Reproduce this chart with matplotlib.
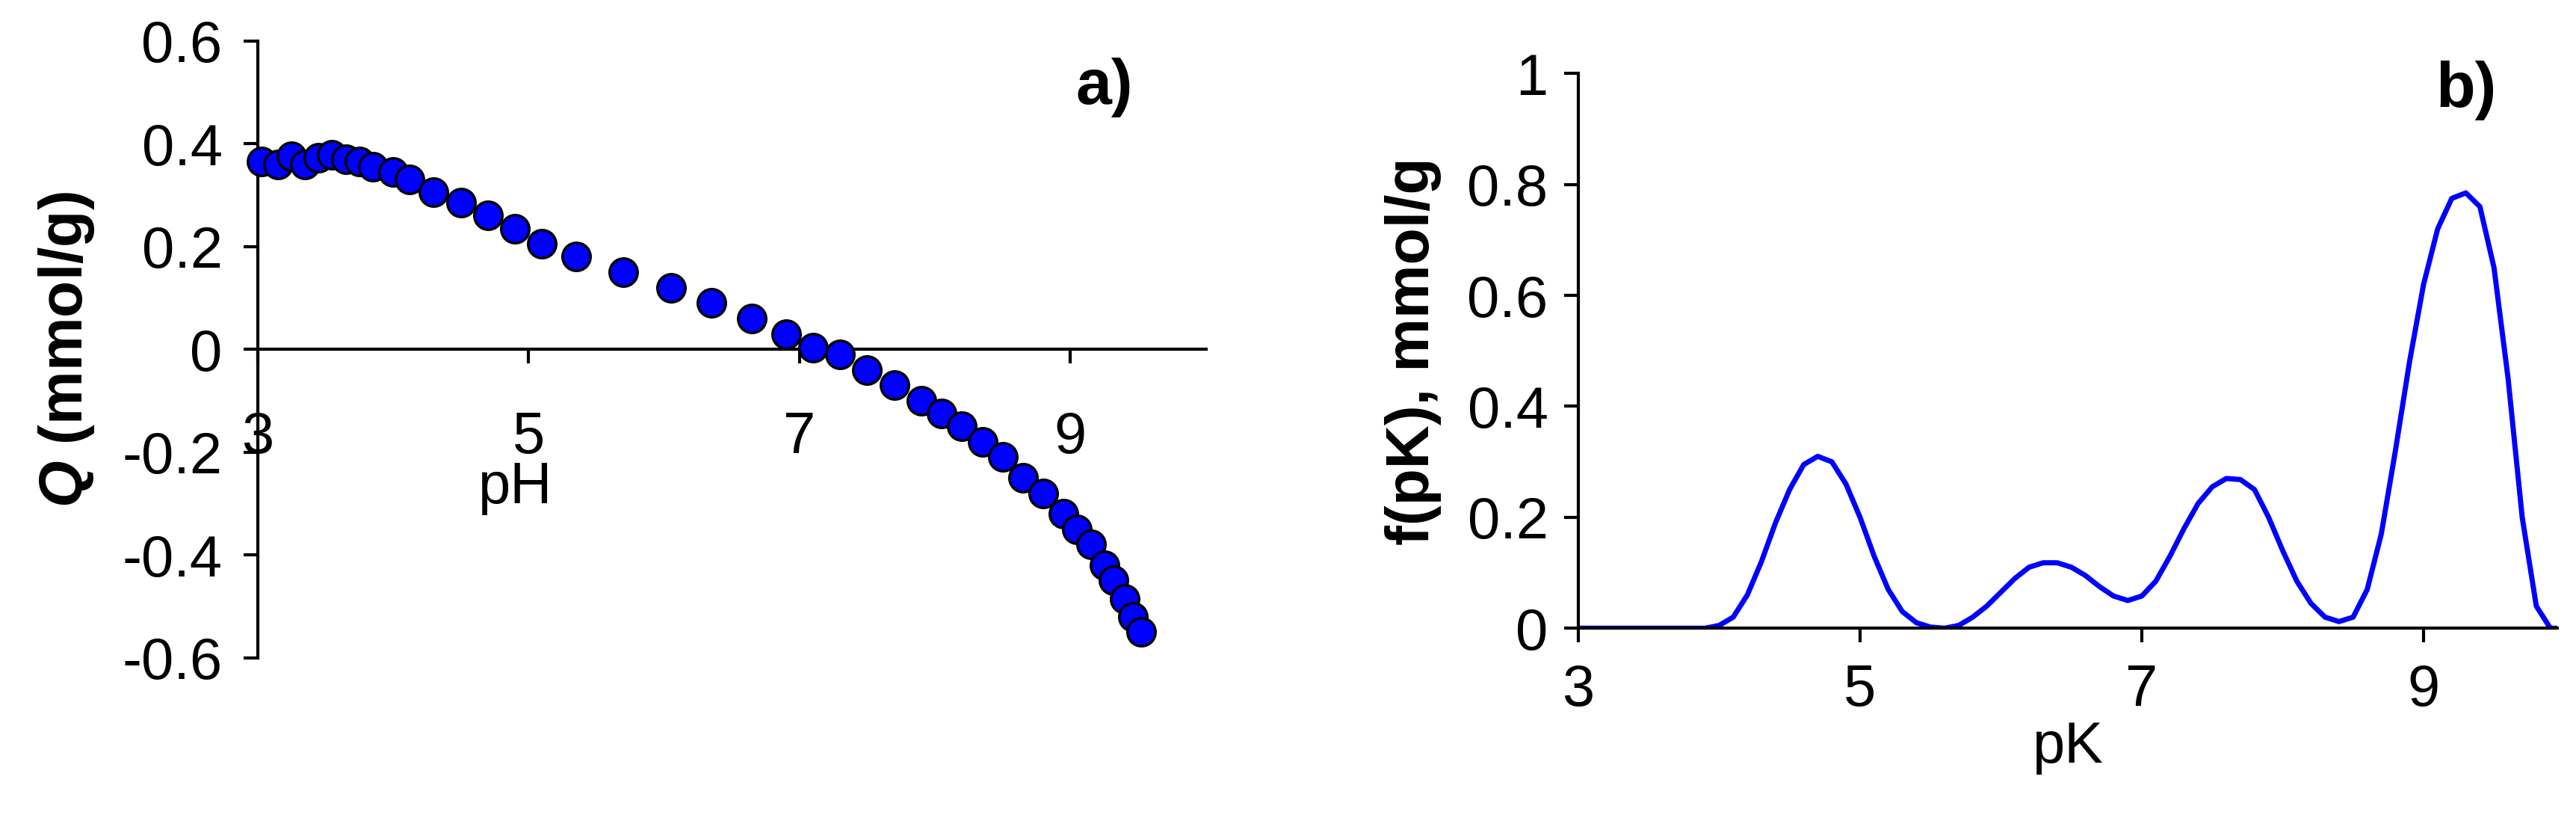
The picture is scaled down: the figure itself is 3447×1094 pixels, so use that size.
import matplotlib
matplotlib.use("Agg")
import matplotlib.pyplot as plt

plt.rcParams['font.family'] = ['Liberation Sans', 'DejaVu Sans']
plt.rcParams['mathtext.fontset'] = 'custom'
plt.rcParams['mathtext.rm'] = 'Liberation Sans'
plt.rcParams['mathtext.bf'] = 'Liberation Sans:bold'
plt.rcParams['mathtext.it'] = 'Liberation Sans:italic'
plt.rcParams['mathtext.bfit'] = 'Liberation Sans:italic:bold'

pH = [3.03, 3.15, 3.25, 3.35, 3.45, 3.55, 3.65, 3.75, 3.85, 4.0, 4.12, 4.3, 4.5, 4.7, 4.9,
      5.1, 5.35, 5.7, 6.05, 6.35, 6.65, 6.9, 7.1, 7.3, 7.5, 7.7, 7.9, 8.05, 8.2, 8.35,
      8.5, 8.65, 8.8, 8.95, 9.05, 9.15, 9.25, 9.32, 9.4, 9.46, 9.52]
Q = [0.365, 0.36, 0.375, 0.36, 0.372, 0.378, 0.37, 0.365, 0.355, 0.345, 0.33, 0.305, 0.285,
     0.26, 0.235, 0.205, 0.18, 0.15, 0.12, 0.09, 0.06, 0.03, 0.003, -0.01, -0.04, -0.07,
     -0.1, -0.125, -0.15, -0.18, -0.21, -0.25, -0.28, -0.32, -0.35, -0.38, -0.42, -0.45,
     -0.485, -0.52, -0.55]

pK = [3.0, 3.5, 3.9, 4.0, 4.1, 4.2, 4.3, 4.4, 4.5, 4.6, 4.7, 4.8, 4.9, 5.0, 5.1, 5.2, 5.3, 5.4,
      5.5, 5.6, 5.7, 5.8, 5.9, 6.0, 6.1, 6.2, 6.3, 6.4, 6.5, 6.6, 6.7, 6.8, 6.9, 7.0, 7.1, 7.2,
      7.3, 7.4, 7.5, 7.6, 7.7, 7.8, 7.9, 8.0, 8.1, 8.2, 8.3, 8.4, 8.5, 8.6, 8.7, 8.8, 8.9, 9.0,
      9.1, 9.2, 9.3, 9.4, 9.5, 9.6, 9.7, 9.8, 9.9, 9.95]
fpK = [0, 0, 0, 0.005, 0.02, 0.06, 0.12, 0.19, 0.25, 0.295, 0.31, 0.3, 0.26, 0.2, 0.13, 0.07,
       0.03, 0.01, 0.002, 0.0, 0.005, 0.02, 0.04, 0.065, 0.09, 0.11, 0.118, 0.118, 0.11, 0.095,
       0.075, 0.058, 0.05, 0.058, 0.085, 0.13, 0.18, 0.225, 0.255, 0.27, 0.268, 0.25, 0.2, 0.14,
       0.085, 0.045, 0.02, 0.012, 0.02, 0.07, 0.17, 0.32, 0.48, 0.62, 0.72, 0.775, 0.785, 0.76,
       0.65, 0.45, 0.2, 0.04, 0.0, 0.0]

fig = plt.figure(figsize=(34.48, 10.94), dpi=100)
FS = 56

# Panel a
ax = fig.add_axes([0.1, 0.196, 0.368, 0.754])
ax.scatter(pH, Q, s=27**2, c='#0000ff', edgecolors='black', linewidths=2.5, zorder=3, clip_on=False)
ax.set_xlim(3, 10)
ax.set_ylim(-0.6, 0.6)
ax.spines['top'].set_visible(False)
ax.spines['right'].set_visible(False)
ax.spines['left'].set_position(('data', 3))
ax.spines['bottom'].set_position(('data', 0))
for s in ['left', 'bottom']:
    ax.spines[s].set_linewidth(3)
ax.set_xticks([3, 5, 7, 9])
ax.set_yticks([-0.6, -0.4, -0.2, 0, 0.2, 0.4, 0.6])
ax.set_yticklabels(['-0.6', '-0.4', '-0.2', '0', '0.2', '0.4', '0.6'])
ax.tick_params(axis='both', labelsize=FS, width=3, length=14, direction='out')
ax.tick_params(axis='x', pad=45)
ax.tick_params(axis='y', pad=20)
ax.text(4.9, -0.27, 'pH', fontsize=FS, ha='center', va='center')
ax.set_ylabel(r'$\mathbfit{Q}$ (mmol/g)', fontsize=FS+2, fontweight='bold', labelpad=25)
ax.text(9.25, 0.51, 'a)', fontsize=FS+6, fontweight='bold', ha='center', va='center')

# Panel b
bx = fig.add_axes([0.6125, 0.232, 0.38, 0.678])
bx.plot(pK, fpK, color='#0000ff', lw=5)
bx.set_xlim(3, 9.95)
bx.set_ylim(0, 1)
bx.spines['top'].set_visible(False)
bx.spines['right'].set_visible(False)
for s in ['left', 'bottom']:
    bx.spines[s].set_linewidth(3)
bx.set_xticks([3, 5, 7, 9])
bx.set_yticks([0, 0.2, 0.4, 0.6, 0.8, 1])
bx.set_yticklabels(['0', '0.2', '0.4', '0.6', '0.8', '1'])
bx.tick_params(axis='both', labelsize=FS, width=3, length=14, direction='out')
bx.tick_params(axis='x', pad=20)
bx.tick_params(axis='y', pad=15)
bx.set_xlabel('pK', fontsize=FS, labelpad=2)
bx.set_ylabel('f(pK), mmol/g', fontsize=FS+2, fontweight='bold', labelpad=25)
bx.text(9.3, 0.97, 'b)', fontsize=FS+6, fontweight='bold', ha='center', va='center')

fig.savefig('out.png', dpi=100)
